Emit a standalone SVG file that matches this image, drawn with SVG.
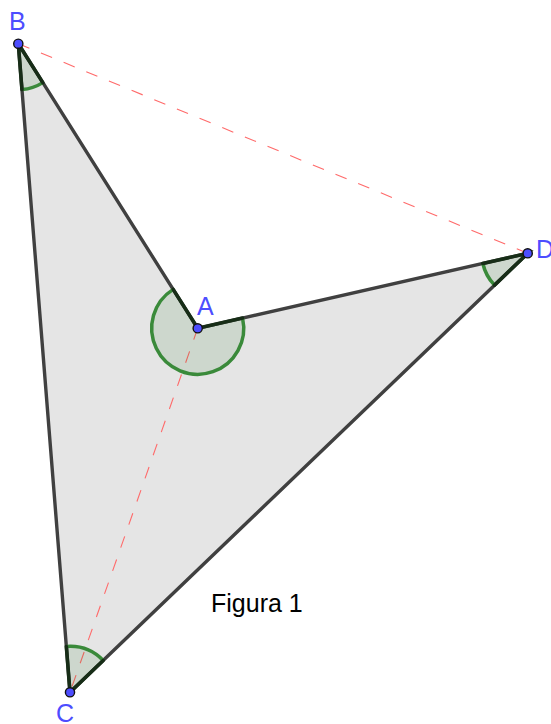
<svg xmlns="http://www.w3.org/2000/svg" width="551" height="724" viewBox="0 0 551 724">
<style>
.lbl{font-family:"Liberation Sans",Arial,sans-serif;font-size:25px;fill:#4d4dff}
.cap{font-family:"Liberation Sans",Arial,sans-serif;font-size:25px;fill:#000}
.dash{stroke:#ff6a6a;stroke-width:1.1;stroke-dasharray:12 12.5;fill:none}
.edge{stroke:#404040;stroke-width:3.4;fill:none;stroke-linecap:round}
.sec{fill:rgba(0,100,0,0.1);stroke:none}
.arc{fill:none;stroke:#3a8a3a;stroke-width:3.5}
.rad{fill:none;stroke:#172d17;stroke-width:3.6;stroke-linecap:round}
.pt{fill:#4d4dff;stroke:#111;stroke-width:1.4}
</style>
<rect width="551" height="724" fill="#fff"/>
<g id="polygon">
<polygon points="18.3,43.7 197.7,328.3 527.7,253.3 70,692.3" fill="#e5e5e5" stroke="none"/>
</g>
<g id="connectors">
<line class="dash" x1="18.3" y1="43.7" x2="527.7" y2="253.3"/>
<line class="dash" x1="197.7" y1="328.3" x2="70" y2="692.3"/>
<polygon class="edge" points="18.3,43.7 197.7,328.3 527.7,253.3 70,692.3" stroke-linejoin="round"/>
</g>
<g id="angle-B">
<path class="sec" d="M18.3,43.7 L42.83,82.62 A46,46 0 0 1 21.96,89.55 Z"/>
<path class="arc" d="M42.83,82.62 A46,46 0 0 1 21.96,89.55"/>
<path class="rad" d="M42.83,82.62 L18.3,43.7 L21.96,89.55"/>
</g>
<g id="angle-A">
<path class="sec" d="M197.7,328.3 L242.56,318.11 A46,46 0 1 1 173.17,289.38 Z"/>
<path class="arc" d="M242.56,318.11 A46,46 0 1 1 173.17,289.38"/>
<path class="rad" d="M242.56,318.11 L197.7,328.3 L173.17,289.38"/>
</g>
<g id="angle-D">
<path class="sec" d="M527.7,253.3 L494.5,285.14 A46,46 0 0 1 482.84,263.49 Z"/>
<path class="arc" d="M494.5,285.14 A46,46 0 0 1 482.84,263.49"/>
<path class="rad" d="M494.5,285.14 L527.7,253.3 L482.84,263.49"/>
</g>
<g id="angle-C">
<path class="sec" d="M70,692.3 L66.34,646.45 A46,46 0 0 1 103.2,660.46 Z"/>
<path class="arc" d="M66.34,646.45 A46,46 0 0 1 103.2,660.46"/>
<path class="rad" d="M66.34,646.45 L70,692.3 L103.2,660.46"/>
</g>
<g id="node-B">
<circle class="pt" cx="18.3" cy="43.7" r="4.6"/>
<text class="lbl" x="9" y="30">B</text>
</g>
<g id="node-A">
<circle class="pt" cx="197.7" cy="328.3" r="4.6"/>
<text class="lbl" x="197" y="315">A</text>
</g>
<g id="node-D">
<circle class="pt" cx="527.7" cy="253.3" r="4.6"/>
<text class="lbl" x="536" y="258">D</text>
</g>
<g id="node-C">
<circle class="pt" cx="70" cy="692.3" r="4.6"/>
<text class="lbl" x="56" y="722">C</text>
</g>
<g id="caption">
<text class="cap" x="211" y="612">Figura 1</text>
</g>
</svg>
